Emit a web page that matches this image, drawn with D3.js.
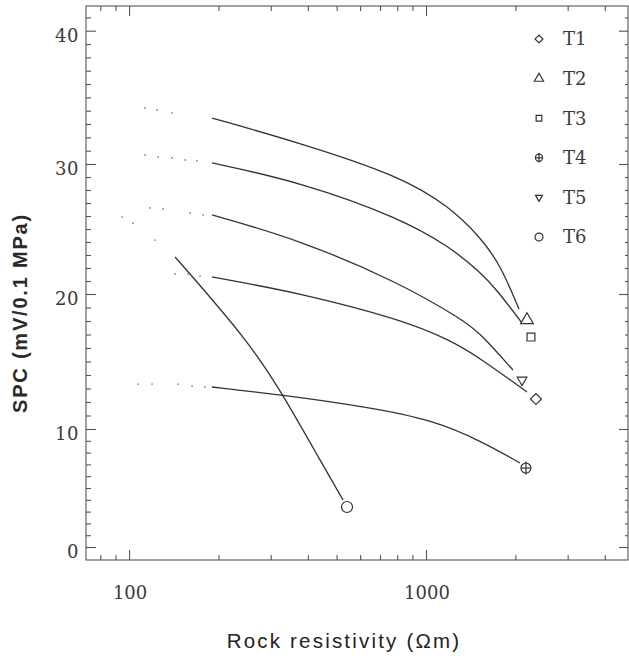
<!DOCTYPE html>
<html><head><meta charset="utf-8">
<script src="https://cdn.jsdelivr.net/npm/d3@7"></script>
<style>body{margin:0;background:#fff}svg{display:block}</style>
</head><body>
<svg id="chart" width="629" height="659"></svg>
<script>
// Spontaneous potential coefficient vs. rock resistivity, six test series
const seriesNames = ["T1", "T2", "T3", "T4", "T5", "T6"];

// Fitted curves: [resistivity (Ωm), SPC (mV/0.1 MPa)]
const curveT1 = [[190.3,21.31],[376.5,20.08],[836.6,18.07],[1204,16.59],[1520,15.26],[2188,12.74]];
const curveT2 = [[190.3,33.45],[376.5,31.58],[817.4,29.08],[1204,26.69],[1520,24.38],[1775,22.31],[2056,18.89]];
const curveT3 = [[190.3,30.08],[376.5,28.62],[817.4,25.85],[1204,23.62],[1520,21.69],[1734,20.31],[2106,17.85]];
const curveT4 = [[190.3,13.11],[330.0,12.52],[632.9,11.63],[1056,10.67],[1555.6,8.90],[2073,7.12]];
const curveT5 = [[190.3,26.08],[376.5,24.15],[817.4,20.85],[1332.6,18.07],[1520,17.11],[1963,14.37]];
const curveT6 = [[142.9,22.85],[255.6,16.37],[330.0,12.52],[439.7,7.37],[525.6,3.98]];

// Dotted extrapolation toward low resistivity
const dotsT1 = [[142.9,21.54],[158.0,21.54],[173.4,21.38]];
const dotsT2 = [[113.2,34.20],[124.3,34.05],[139.6,33.83]];
const dotsT3 = [[113.2,30.68],[125.2,30.53],[139.6,30.45],[154.4,30.30],[169.4,30.23]];
const dotsT4 = [[107.2,13.33],[119.5,13.33],[146.2,13.33],[163.0,13.19],[180.3,13.11]];
const dotsT5 = [[94.7,25.92],[103.1,25.46],[117.7,26.62],[130.2,26.54],[160.5,26.23],[177.5,26.08],[122.3,24.15]];

// Measured end points of each series
const markerRes = [2346, 2188, 2257, 2171, 2106, 542];
const markerSpc = [12.22, 18.07, 16.81, 6.69, 13.63, 3.39];

// Axis ticks
const xMajorTicks = [100, 1000];
const xMinorTicks = [80, 90, 200, 300, 400, 500, 600, 700, 800, 900, 2000, 3000, 4000];
const yMajorTicks = [0, 10, 20, 30, 40];
const yMinorTicks = d3.range(1, 42).filter(v => v % 10 !== 0);

const xTitle = "Rock resistivity (\u03A9m)";
const yTitle = "SPC (mV/0.1 MPa)";

const curves = [curveT1, curveT2, curveT3, curveT4, curveT5, curveT6];
const dotSets = [dotsT1, dotsT2, dotsT3, dotsT4, dotsT5];

const svg = d3.select("#chart");
const ink = "#333";

const plotL = 86, plotR = 628, plotT = 6, plotB = 560;
const x = d3.scaleLog().domain([71.6, 4790]).range([plotL, plotR]);
// the vertical axis follows the printed tick positions
const y = d3.scaleLinear().domain([0, 10, 20, 30, 40]).range([547, 429, 294, 164, 30.7]);

const g = svg.append("g");

// frame
g.append("rect").attr("x", plotL).attr("y", plotT)
  .attr("width", plotR - plotL).attr("height", plotB - plotT)
  .attr("fill", "none").attr("stroke", "#555").attr("stroke-width", 1.1);

function tickAxis(axisFn, scale, values, len, pos, horiz) {
  const a = axisFn(scale).tickValues(values).tickSize(len).tickFormat("");
  const sel = g.append("g")
    .attr("transform", horiz ? `translate(0,${pos})` : `translate(${pos},0)`)
    .call(a);
  sel.select(".domain").remove();
  sel.selectAll("line").attr("stroke", "#555").attr("stroke-width", 1.1);
  return sel;
}
// bottom & top
tickAxis(d3.axisTop, x, xMajorTicks, 10, plotB, true);
tickAxis(d3.axisTop, x, xMinorTicks, 5, plotB, true);
tickAxis(d3.axisBottom, x, xMajorTicks, 10, plotT, true);
tickAxis(d3.axisBottom, x, xMinorTicks, 5, plotT, true);
// left & right
tickAxis(d3.axisRight, y, yMajorTicks, 10, plotL, false);
tickAxis(d3.axisRight, y, yMinorTicks, 5, plotL, false);
tickAxis(d3.axisLeft, y, yMajorTicks, 9, plotR, false);
tickAxis(d3.axisLeft, y, yMinorTicks, 3, plotR, false);

// tick labels
const tickFont = "'DejaVu Serif', serif";
g.selectAll(".ylab").data(yMajorTicks).join("text")
  .attr("x", 79).attr("y", d => y(d) + 5).attr("dy", "0.36em")
  .attr("text-anchor", "end").attr("font-family", tickFont)
  .attr("font-size", 18).attr("letter-spacing", 0.6).attr("fill", "#3a3a3a").text(d => d);
g.selectAll(".xlab").data(xMajorTicks).join("text")
  .attr("x", d => x(d) + 1).attr("y", 599)
  .attr("text-anchor", "middle").attr("font-family", tickFont)
  .attr("font-size", 18).attr("fill", "#3a3a3a").text(d => d);

// axis titles
svg.append("text").attr("x", 344).attr("y", 648)
  .attr("text-anchor", "middle").attr("font-family", "'Liberation Sans', Arial, sans-serif")
  .attr("font-size", 20.5).attr("letter-spacing", 2.2).attr("fill", "#222").text(xTitle);
svg.append("text").attr("transform", "translate(27,313) rotate(-90)")
  .attr("text-anchor", "middle").attr("font-family", "'Liberation Sans', Arial, sans-serif")
  .attr("font-weight", "bold").attr("font-size", 20).attr("letter-spacing", 1.8)
  .attr("fill", "#2a2a2a").text(yTitle);

// curves (smooth B-spline through the read points)
const line = d3.line().x(d => x(d[0])).y(d => y(d[1])).curve(d3.curveBasis);
g.selectAll(".curve").data(curves).join("path")
  .attr("d", line).attr("fill", "none").attr("stroke", ink).attr("stroke-width", 1.3);

// extrapolation dots
dotSets.forEach(set => {
  g.append("g").selectAll("circle").data(set).join("circle")
    .attr("cx", d => x(d[0])).attr("cy", d => y(d[1])).attr("r", 0.9).attr("fill", "#888");
});

// marker drawing
function drawMarker(sel, i, s) {
  const apply = e => e.attr("fill", "#fff").attr("stroke", ink).attr("stroke-width", 1.2);
  if (i === 0) apply(sel.append("path").attr("d", d3.symbol(d3.symbolSquare, 60 * s * s)()).attr("transform", "rotate(45)"));
  if (i === 1) apply(sel.append("path").attr("d", d3.symbol(d3.symbolTriangle, 70 * s * s)()));
  if (i === 2) apply(sel.append("path").attr("d", d3.symbol(d3.symbolSquare, 62 * s * s)()));
  if (i === 3) {
    apply(sel.append("circle").attr("r", 5 * s));
    sel.append("line").attr("x1", 0).attr("x2", 0).attr("y1", -6.5 * s).attr("y2", 6.5 * s).attr("stroke", ink).attr("stroke-width", 1.2);
    sel.append("line").attr("x1", -5 * s).attr("x2", 5 * s).attr("y1", 0).attr("y2", 0).attr("stroke", ink).attr("stroke-width", 1.2);
  }
  if (i === 4) apply(sel.append("path").attr("d", d3.symbol(d3.symbolTriangle, 40 * s * s)()).attr("transform", "rotate(180)"));
  if (i === 5) apply(sel.append("circle").attr("r", 5.5 * s));
}

markerRes.forEach((r, i) => {
  const m = g.append("g").attr("transform", `translate(${x(r)},${y(markerSpc[i])})`);
  drawMarker(m, i, 1);
});

// legend
const legend = g.append("g");
seriesNames.forEach((name, i) => {
  const row = legend.append("g").attr("transform", `translate(539,${39 + i * 39.6})`);
  drawMarker(row.append("g"), i, 0.72);
  row.append("text").attr("x", 24).attr("dy", "0.36em")
    .attr("font-family", tickFont).attr("font-size", 18).attr("fill", "#3a3a3a").text(name);
});
</script>
</body></html>
